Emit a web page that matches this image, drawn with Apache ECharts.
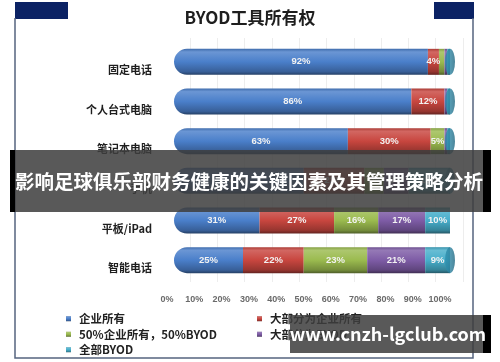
<!DOCTYPE html>
<html>
<head>
<meta charset="utf-8">
<script src="https://cdn.jsdelivr.net/npm/echarts@6/dist/echarts.min.js"></script>
<style>
html,body{margin:0;padding:0;background:#fff;}
#c{width:500px;height:362px;}
</style>
</head>
<body>
<div id="c"></div>
<script>
var titleText = 'BYOD工具所有权';
var categories = ['固定电话', '个人台式电脑', '笔记本电脑', '手机', '平板/iPad', '智能电话'];
var seriesNames = ['企业所有', '大部分为企业所有', '50%企业所有，50%BYOD', '大部分为BYOD', '全部BYOD'];
var corpOwned = [92, 86, 63, 47, 31, 25];
var mostlyCorp = [4, 12, 30, 22, 27, 22];
var halfHalf = [2, 0, 5, 7, 16, 23];
var mostlyByod = [1, 1, 1, 9, 17, 21];
var allByod = [1, 1, 1, 15, 10, 9];
var xTicks = ['0%', '10%', '20%', '30%', '40%', '50%', '60%', '70%', '80%', '90%', '100%'];
var bannerText = '影响足球俱乐部财务健康的关键因素及其管理策略分析';
var watermarkText = 'www.cnzh-lgclub.com';

var values = [corpOwned, mostlyCorp, halfHalf, mostlyByod, allByod];
var baseColors = ['#4A7FCA', '#C8463F', '#9BBB4F', '#7E5CA6', '#47AECB'];
var FONT = '"Noto Sans CJK SC", "Noto Sans", sans-serif';

function shade(hex, f) {
  var r = parseInt(hex.substr(1, 2), 16), g = parseInt(hex.substr(3, 2), 16), b = parseInt(hex.substr(5, 2), 16);
  function c(v) { v = f > 0 ? v + (255 - v) * f : v * (1 + f); return Math.max(0, Math.min(255, Math.round(v))); }
  return 'rgb(' + c(r) + ',' + c(g) + ',' + c(b) + ')';
}
function cyl(hex) {
  return new echarts.graphic.LinearGradient(0, 0, 0, 1, [
    {offset: 0, color: shade(hex, -0.15)},
    {offset: 0.12, color: shade(hex, 0.18)},
    {offset: 0.5, color: hex},
    {offset: 0.88, color: shade(hex, -0.25)},
    {offset: 1, color: shade(hex, -0.5)}
  ]);
}

var series = seriesNames.map(function (name, i) {
  var radius = 0;
  if (i === 0) radius = [13, 0, 0, 13];
  return {
    name: name,
    type: 'bar',
    stack: 'total',
    xAxisIndex: 0, yAxisIndex: 0,
    barWidth: 26,
    data: values[i],
    itemStyle: {color: cyl(baseColors[i]), borderRadius: radius},
    label: {
      show: true, position: 'inside',
      color: '#F2F2F2', fontSize: 9.5, fontWeight: 'bold', fontFamily: 'Arial, sans-serif',
      formatter: function (p) { return p.value >= 4 ? p.value + '%' : ''; }
    },
    emphasis: {disabled: true}
  };
});
var totals = categories.map(function (c, k) {
  var s = 0; values.forEach(function (a) { s += a[k]; }); return s;
});
series.push({
  name: 'cap', type: 'scatter', xAxisIndex: 0, yAxisIndex: 0,
  symbol: 'circle', symbolSize: [10, 26], z: 5, silent: true,
  data: totals.map(function (t, k) { return [t, k]; }),
  itemStyle: {color: new echarts.graphic.LinearGradient(0, 0, 1, 0, [
    {offset: 0, color: '#2C8FAE'}, {offset: 0.6, color: '#2A7F9C'}, {offset: 1, color: '#1F667F'}
  ])}
});

var chart = echarts.init(document.getElementById('c'), null, {renderer: 'canvas'});
chart.setOption({
  animation: false,
  backgroundColor: '#fff',
  title: {
    text: titleText, left: 'center', top: 4,
    textStyle: {fontSize: 17, fontWeight: 'bold', color: '#1E1E1E', fontFamily: FONT}
  },
  legend: [{
    orient: 'vertical', left: 61, top: 308, itemWidth: 5, itemHeight: 5, itemGap: 4, icon: 'rect',
    data: [seriesNames[0], seriesNames[2], seriesNames[4]],
    textStyle: {fontSize: 11.5, fontWeight: 'bold', color: '#222', fontFamily: FONT, padding: [0, 0, 0, 3]},
    selectedMode: false
  }, {
    orient: 'vertical', left: 252, top: 308, itemWidth: 5, itemHeight: 5, itemGap: 4, icon: 'rect',
    data: [seriesNames[1], seriesNames[3]],
    textStyle: {fontSize: 11.5, fontWeight: 'bold', color: '#222', fontFamily: FONT, padding: [0, 0, 0, 3]},
    selectedMode: false
  }],
  grid: [
    {left: 174, right: 50, top: 42, height: 238},
    {left: 160, right: 50, top: 50, height: 238},
    {left: 167, right: 60, top: 42, bottom: 71},
    {left: 190, right: 37, top: 38, bottom: 80}
  ],
  xAxis: [
    {gridIndex: 0, type: 'value', min: 0, max: 100, show: false},
    {gridIndex: 1, type: 'value', min: 0, max: 100, show: false},
    {gridIndex: 2, type: 'value', min: 0, max: 100, interval: 10,
      axisLine: {show: false}, axisTick: {show: false}, splitLine: {show: false},
      axisLabel: {margin: 4, fontSize: 9, fontWeight: 'bold', color: '#6A6A6A', fontFamily: 'Arial, sans-serif',
        formatter: function (v) { return xTicks[Math.round(v / 10)]; }}},
    {gridIndex: 3, type: 'value', min: 0, max: 100, interval: 10,
      axisLine: {show: false}, axisTick: {show: false}, axisLabel: {show: false},
      splitLine: {show: true, lineStyle: {color: '#EDEDED', width: 1}}}
  ],
  yAxis: [
    {gridIndex: 0, type: 'category', data: categories, inverse: true, show: false},
    {gridIndex: 1, type: 'category', data: categories, inverse: true,
      axisLine: {show: false}, axisTick: {show: false},
      axisLabel: {margin: 8, fontSize: 11, fontWeight: 'bold', color: '#1E1E1E', fontFamily: FONT}},
    {gridIndex: 2, type: 'category', data: categories, show: false},
    {gridIndex: 3, type: 'category', data: categories, show: false}
  ],
  series: series,
  graphic: [
    {type: 'rect', shape: {x: 15, y: 2, width: 53, height: 17}, style: {fill: '#0B2264'}, z: 10},
    {type: 'rect', shape: {x: 434, y: 2, width: 40, height: 17}, style: {fill: '#0B2264'}, z: 10},
    {type: 'polyline', shape: {points: [[15, 18], [15, 358], [473, 358], [473, 18]]},
      style: {stroke: '#56647F', lineWidth: 1.5, fill: null}, z: 10},
    {type: 'rect', shape: {x: 10, y: 150, width: 481, height: 62}, style: {fill: 'rgba(62,62,62,0.86)'}, z: 20},
    {type: 'rect', shape: {x: 10, y: 150, width: 5, height: 62}, style: {fill: '#000'}, z: 21},
    {type: 'rect', shape: {x: 483, y: 150, width: 8, height: 62}, style: {fill: '#000'}, z: 21},
    {type: 'text', x: 249, y: 182, z: 22,
      style: {text: bannerText, fill: '#fff', font: 'bold 19.5px ' + FONT, align: 'center', verticalAlign: 'middle'}},
    {type: 'rect', shape: {x: 290, y: 315, width: 201, height: 38}, style: {fill: 'rgba(62,62,62,0.86)'}, z: 20},
    {type: 'rect', shape: {x: 483, y: 315, width: 8, height: 38}, style: {fill: '#000'}, z: 21},
    {type: 'text', x: 388, y: 334, z: 22,
      style: {text: watermarkText, fill: '#fff', font: 'bold 18px ' + FONT, align: 'center', verticalAlign: 'middle'}}
  ]
});
</script>
</body>
</html>
